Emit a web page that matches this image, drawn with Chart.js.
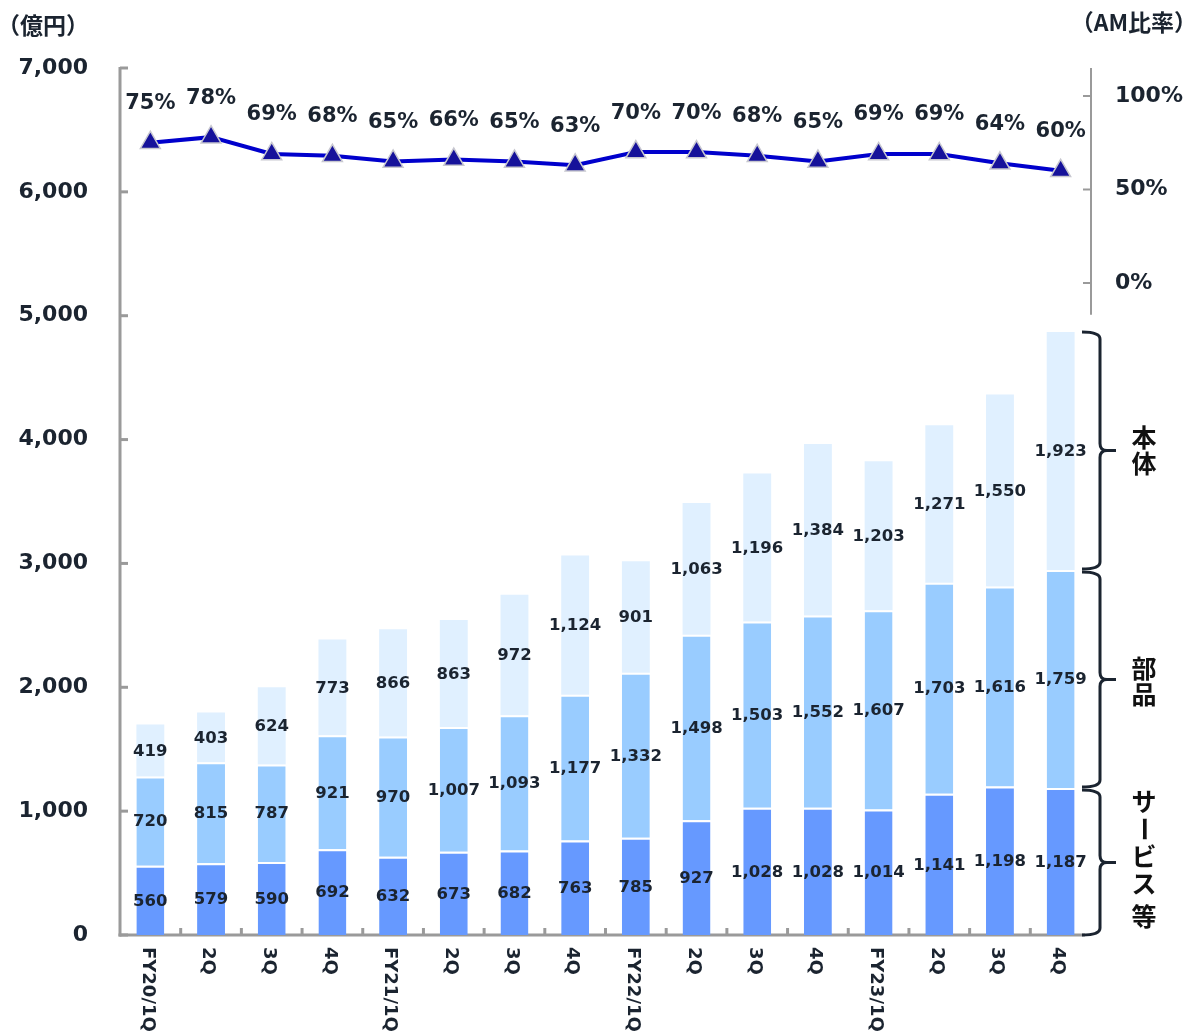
<!DOCTYPE html>
<html lang="ja">
<head>
<meta charset="utf-8">
<title>売上高推移とAM比率</title>
<script src="https://cdn.jsdelivr.net/npm/chart.js@4/dist/chart.umd.min.js"></script>
<style>
  html, body { margin: 0; padding: 0; background: #fff; }
  #wrap { width: 1191px; height: 1033px; position: relative; }
</style>
</head>
<body>
<div id="wrap"><canvas id="c" width="1191" height="1033"></canvas></div>
<script>
// Quarter labels
const quarters = ['FY20/1Q','2Q','3Q','4Q','FY21/1Q','2Q','3Q','4Q','FY22/1Q','2Q','3Q','4Q','FY23/1Q','2Q','3Q','4Q'];
// Revenue by segment (億円)
const serviceEtc = [560,579,590,692,632,673,682,763,785,927,1028,1028,1014,1141,1198,1187];
const parts      = [720,815,787,921,970,1007,1093,1177,1332,1498,1503,1552,1607,1703,1616,1759];
const mainUnit   = [419,403,624,773,866,863,972,1124,901,1063,1196,1384,1203,1271,1550,1923];
// AM ratio (%)
const amRatio    = [75,78,69,68,65,66,65,63,70,70,68,65,69,69,64,60];
// Axis ticks
const leftTicks  = [0,1000,2000,3000,4000,5000,6000,7000];
const rightTicks = [0,50,100];
// Segment names shown beside the last bar
const segmentNames = ['サービス等','部品','本体'];

const TEXT = '#1b2430';
const AXIS = '#9a9a9a';
const FONT = '"DejaVu Sans", Verdana, sans-serif';
const CJK = '"Noto Sans CJK JP", "Noto Sans CJK SC", sans-serif';

const fmt = v => v.toLocaleString('en-US');

const decor = {
  id: 'decor',
  beforeDatasetsDraw(chart) {
    const ctx = chart.ctx;
    const ca = chart.chartArea;
    const y = chart.scales.y, y1 = chart.scales.y1;
    ctx.save();
    ctx.strokeStyle = AXIS;
    ctx.lineWidth = 3;
    ctx.lineCap = 'butt';
    // left axis
    ctx.beginPath();
    ctx.moveTo(ca.left, y.getPixelForValue(7000) - 1);
    ctx.lineTo(ca.left, ca.bottom + 1.5);
    ctx.stroke();
    leftTicks.forEach(v => {
      const py = y.getPixelForValue(v);
      ctx.beginPath();
      ctx.moveTo(ca.left, py);
      ctx.lineTo(ca.left + 8, py);
      ctx.stroke();
    });
    // bottom axis
    ctx.beginPath();
    ctx.moveTo(ca.left - 1.5, ca.bottom);
    ctx.lineTo(ca.right - 6, ca.bottom);
    ctx.stroke();
    const step = (ca.right - ca.left) / quarters.length;
    for (let i = 1; i < quarters.length; i++) {
      const px = ca.left + step * i;
      ctx.beginPath();
      ctx.moveTo(px, ca.bottom);
      ctx.lineTo(px, ca.bottom - 7);
      ctx.stroke();
    }
    // right axis (upper part only)
    ctx.lineWidth = 2;
    ctx.beginPath();
    ctx.moveTo(ca.right, y.getPixelForValue(7000));
    ctx.lineTo(ca.right, y1.getPixelForValue(-17));
    ctx.stroke();
    rightTicks.forEach(v => {
      const py = y1.getPixelForValue(v);
      ctx.beginPath();
      ctx.moveTo(ca.right, py);
      ctx.lineTo(ca.right - 8, py);
      ctx.stroke();
    });
    ctx.restore();
  },
  afterDatasetsDraw(chart) {
    const ctx = chart.ctx;
    const ca = chart.chartArea;
    const y = chart.scales.y, x = chart.scales.x;
    ctx.save();
    ctx.fillStyle = TEXT;
    ctx.textAlign = 'center';
    ctx.textBaseline = 'middle';

    // segment values inside bars
    ctx.font = 'bold 16.5px ' + FONT;
    [0,1,2].forEach(di => {
      const meta = chart.getDatasetMeta(di);
      const vals = chart.data.datasets[di].data;
      meta.data.forEach((bar, i) => {
        const cy = (bar.y + bar.base) / 2;
        ctx.fillText(fmt(vals[i]), bar.x, cy + 1);
      });
    });

    // ratio labels above points
    ctx.font = 'bold 21px ' + FONT;
    const lm = chart.getDatasetMeta(3);
    lm.data.forEach((pt, i) => {
      ctx.fillText(amRatio[i] + '%', pt.x, pt.y - 39);
    });

    // category labels, rotated clockwise
    ctx.font = 'bold 18px ' + FONT;
    ctx.textAlign = 'left';
    quarters.forEach((q, i) => {
      const px = x.getPixelForValue(i);
      ctx.save();
      ctx.translate(px - 3, ca.bottom + 12);
      ctx.rotate(Math.PI / 2);
      ctx.fillText(q, 0, 0);
      ctx.restore();
    });

    // unit titles
    ctx.font = 'bold 23px ' + CJK;
    ctx.textAlign = 'left';
    ctx.fillText('（億円）', -3, 25);
    ctx.textAlign = 'right';
    ctx.fillText('（AM比率）', 1197, 22);

    // braces beside the last bar
    const last = quarters.length - 1;
    const b0 = 0;
    const b1 = serviceEtc[last];
    const b2 = b1 + parts[last];
    const b3 = b2 + mainUnit[last];
    const xs = 1100, xl = 1082, xn = 1116, r = 7;
    const brace = (top, bot) => {
      const ym = (top + bot) / 2;
      ctx.beginPath();
      ctx.moveTo(xl, top);
      ctx.quadraticCurveTo(xs, top, xs, top + r);
      ctx.lineTo(xs, ym - r);
      ctx.quadraticCurveTo(xs, ym, xs + r, ym);
      ctx.lineTo(xn, ym);
      ctx.moveTo(xs + r, ym);
      ctx.quadraticCurveTo(xs, ym, xs, ym + r);
      ctx.lineTo(xs, bot - r);
      ctx.quadraticCurveTo(xs, bot, xl, bot);
      ctx.stroke();
    };
    ctx.strokeStyle = TEXT;
    ctx.lineWidth = 3;
    brace(y.getPixelForValue(b3), y.getPixelForValue(b2) - 1);
    brace(y.getPixelForValue(b2) + 2, y.getPixelForValue(b1) - 1);
    brace(y.getPixelForValue(b1) + 2, y.getPixelForValue(b0));

    // vertical segment names
    ctx.font = 'bold 25px ' + CJK;
    ctx.textAlign = 'center';
    ctx.fillStyle = '#111';
    const cx = 1144;
    const drawV = (chars, ys) => {
      chars.forEach((ch, k) => {
        if (ch === 'ー') {
          ctx.save();
          ctx.translate(cx, ys[k]);
          ctx.rotate(Math.PI / 2);
          ctx.fillText(ch, 0, 0);
          ctx.restore();
        } else {
          ctx.fillText(ch, cx, ys[k]);
        }
      });
    };
    drawV(Array.from(segmentNames[2]), [437, 463]);
    drawV(Array.from(segmentNames[1]), [668, 694]);
    drawV(Array.from(segmentNames[0]), [801, 829, 856, 883, 916]);

    ctx.restore();
  }
};

new Chart(document.getElementById('c'), {
  type: 'bar',
  data: {
    labels: quarters,
    datasets: [
      { label: segmentNames[0], data: serviceEtc, backgroundColor: '#6699ff', borderColor: '#ffffff', borderWidth: {top: 2, left: 0, right: 0, bottom: 0}, borderSkipped: false, order: 1, yAxisID: 'y' },
      { label: segmentNames[1], data: parts, backgroundColor: '#99ccff', borderColor: '#ffffff', borderWidth: {top: 2, left: 0, right: 0, bottom: 0}, borderSkipped: false, order: 1, yAxisID: 'y' },
      { label: segmentNames[2], data: mainUnit, backgroundColor: '#e0f0ff', borderColor: '#ffffff', borderWidth: {top: 0, left: 0, right: 0, bottom: 0}, borderSkipped: false, order: 1, yAxisID: 'y' },
      { type: 'line', label: 'AM比率', data: amRatio, yAxisID: 'y1', order: 0,
        borderColor: '#0000cc', borderWidth: 4, tension: 0, fill: false,
        pointStyle: 'triangle', pointRadius: 11.5, pointHoverRadius: 11.5,
        pointBackgroundColor: '#16129a', pointBorderColor: '#c8c8d0', pointBorderWidth: 1.5 }
    ]
  },
  options: {
    responsive: false,
    animation: false,
    events: [],
    layout: { padding: { top: 68, left: 0, right: 0, bottom: 0 } },
    plugins: { legend: { display: false }, tooltip: { enabled: false } },
    datasets: { bar: { categoryPercentage: 1, barPercentage: 0.46 } },
    scales: {
      x: {
        stacked: true,
        grid: { display: false },
        border: { display: false },
        ticks: { display: false },
        afterFit: s => { s.height = 98; }
      },
      y: {
        stacked: true,
        position: 'left',
        min: 0, max: 7000,
        grid: { display: false, drawTicks: false },
        border: { display: false },
        afterBuildTicks: s => { s.ticks = leftTicks.map(v => ({ value: v })); },
        ticks: { padding: 32, color: TEXT, font: { family: FONT, size: 22, weight: 'bold' }, callback: v => fmt(v) },
        afterFit: s => { s.width = 120; }
      },
      y1: {
        position: 'right',
        min: -348.66, max: 114.97,
        grid: { display: false, drawTicks: false },
        border: { display: false },
        afterBuildTicks: s => { s.ticks = rightTicks.map(v => ({ value: v })); },
        ticks: { padding: 24, color: TEXT, font: { family: FONT, size: 22, weight: 'bold' }, callback: v => v + '%' },
        afterFit: s => { s.width = 100; }
      }
    }
  },
  plugins: [decor]
});
</script>
</body>
</html>
